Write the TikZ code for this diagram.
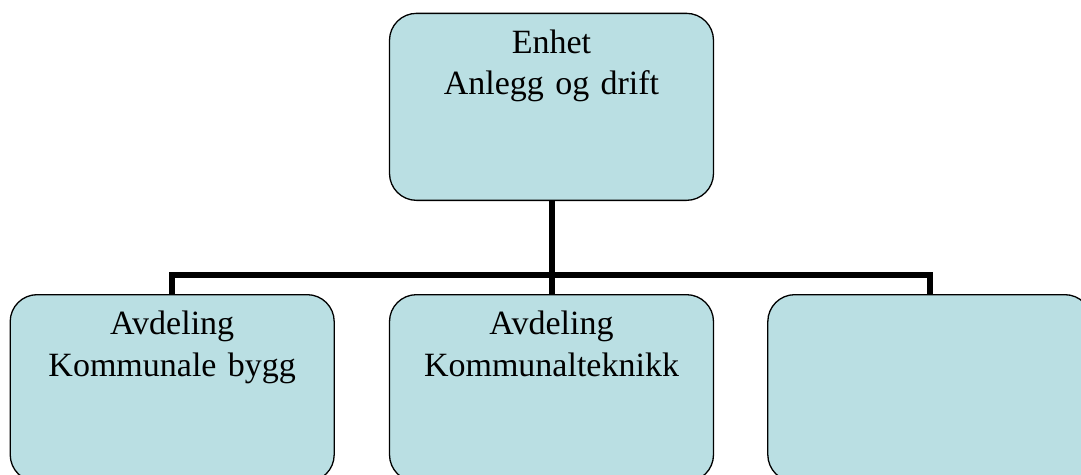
\documentclass[tikz,border=0pt]{standalone}
\usepackage{fontspec}
\setmainfont{Liberation Serif}
\usepackage{tikz}
\usetikzlibrary{positioning,calc}

\definecolor{boxfill}{RGB}{186,223,227}

\tikzset{
  unit/.style={draw, line width=1.3pt, fill=boxfill, rounded corners=27pt,
    text width=324pt, inner sep=0pt, align=center,
    text height=40pt, text depth=147pt,
    font=\fontsize{34}{41.5}\selectfont},
  link/.style={line width=6pt, line join=miter}
}

\begin{document}
\begin{tikzpicture}[x=1pt,y=1pt,node distance=93pt and 54pt]

  \useasboundingbox (0,0) rectangle (1081,-474);

  \node[unit, anchor=north] (top) at (551.5,-12.7) {Enhet\\Anlegg og drift};

  \node[unit] (b2) [below=of top] {Avdeling\\Kommunalteknikk};
  \node[unit] (b1) [left=of b2] {Avdeling\\Kommunale bygg};
  \node[unit] (b3) [right=53pt of b2] {};

  \coordinate (bar) at ($(top.south)+(0,-74)$);

  \draw[link] (top.south) -- (b2.north);
  \draw[link] (b1.north) |- (bar) -| (b3.north);

\end{tikzpicture}
\end{document}
